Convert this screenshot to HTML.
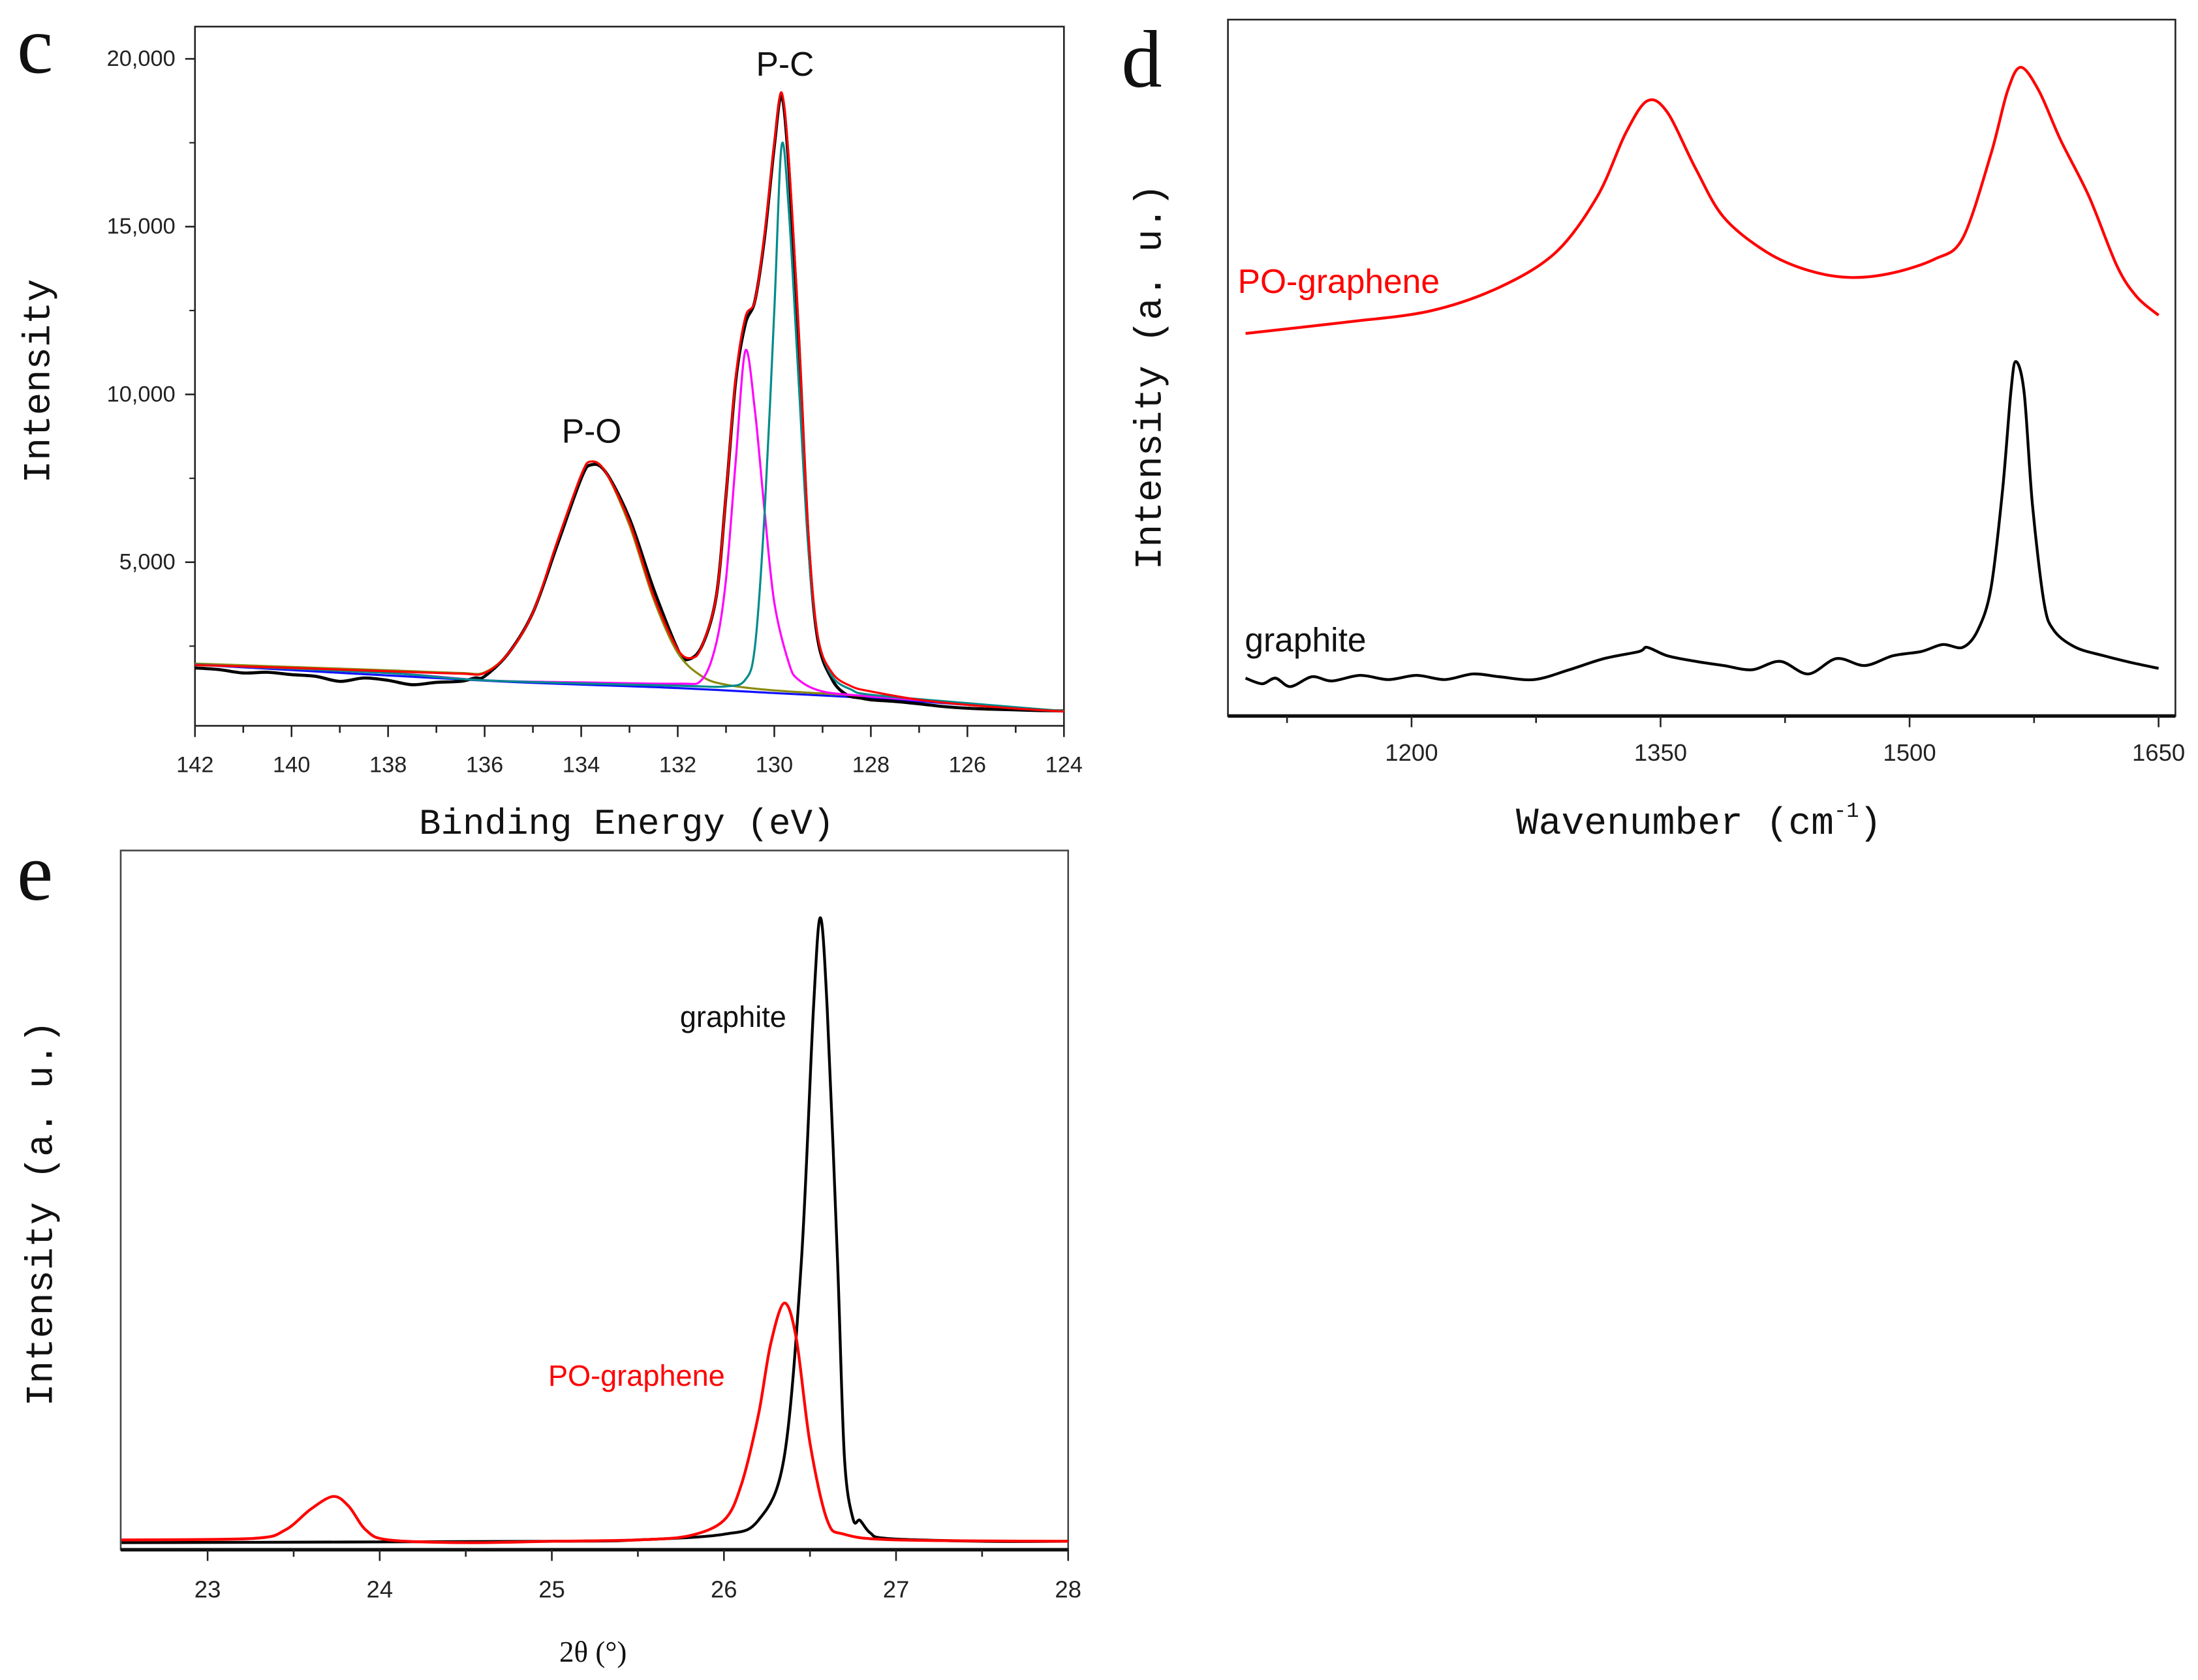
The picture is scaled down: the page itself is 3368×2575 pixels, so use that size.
<!DOCTYPE html>
<html><head><meta charset="utf-8"><style>
html,body{margin:0;padding:0;background:#fff;}
svg{display:block;}
text{font-family:"Liberation Sans",sans-serif;}
.mono{font-family:"Liberation Mono","Liberation Serif",monospace;}
.serif{font-family:"Liberation Serif",serif;}
</style></head><body>
<svg id="fig" width="3368" height="2575" viewBox="0 0 1568 1199" xmlns="http://www.w3.org/2000/svg"></svg>
<script>
// ---------- Panel c (XPS P 2p) ----------
const cEnvE = [142,140,138,136.5,136,135.5,135,134.5,134,133.8,133.5,133,132.5,132,131.7,131.5,131.2,131,130.8,130.6,130.4,130.2,130,129.85,129.7,129.5,129.3,129.1,128.8,128.4,128,127,126,125,124];
const cEnvV = [1935,1850,1750,1680,1700,2300,3500,5600,7600,8000,7700,6200,4000,2400,2150,2500,4000,7000,10500,12300,12800,14800,17500,19000,17000,12000,6000,2800,1700,1300,1150,900,750,640,550];
const cRawE = [142,141.5,141,140.5,140,139.5,139,138.5,138,137.5,137,136.5,136.2,136,135.5,135,134.5,134,133.8,133.5,133,132.5,132,131.8,131.5,131.2,131,130.8,130.6,130.4,130.2,130,129.85,129.7,129.5,129.3,129.1,128.8,128.5,128.2,128,127.5,127,126.5,126,125.5,125,124.5,124];
const cRawV = [1850,1800,1700,1720,1650,1600,1450,1550,1480,1350,1420,1450,1550,1600,2300,3500,5500,7500,7900,7700,6300,4200,2400,2100,2500,4000,7000,10400,12100,12800,14700,17400,18900,16800,11800,5800,2700,1500,1050,950,900,850,780,700,650,620,600,580,570];
const cPOE = [142,140,138,136.5,136,135.5,135,134.5,134,133.8,133.5,133,132.5,132,131.5,131,130,128,126,124];
const cPOV = [1980,1880,1780,1700,1720,2300,3500,5600,7600,8000,7700,6100,3900,2300,1600,1350,1180,1000,780,570];
const cP1E = [142,138,136,134,132,131.5,131.2,131,130.8,130.6,130.4,130.2,130,129.7,129.5,129,128,126,124];
const cP1V = [1950,1700,1480,1420,1380,1500,2600,4500,8000,11300,9500,6500,3800,2000,1500,1150,1000,780,560];
const cP2E = [142,138,136,132,131,130.6,130.4,130.2,130,129.85,129.7,129.5,129.3,129.1,128.8,128.4,128,126,124];
const cP2V = [1950,1700,1480,1320,1300,1500,2500,6500,12500,17400,15500,10500,5500,2800,1600,1200,1050,800,560];
const cBgE = [142,136,132,130,128,126,124];
const cBgV = [1950,1470,1250,1100,950,750,550];
const cXTicks = [142,140,138,136,134,132,130,128,126,124];
const cYTicks = [5000,10000,15000,20000];
const cYLabels = ["5,000","10,000","15,000","20,000"];

// ---------- Panel d (Raman) ----------
const dRedW = [1100,1160,1211,1253,1287,1312,1329,1342,1354,1371,1388,1414,1439,1464,1489,1515,1532,1549,1559,1567,1578,1591,1608,1625,1637,1650];
const dRedV = [273,281,289,306,331,371,416,439,431,391,356,331,318,313,316,326,341,401,446,463,446,411,371,321,299,286];
const dBlkW = [1100,1110,1118,1127,1140,1152,1169,1186,1203,1220,1237,1253,1274,1295,1316,1337,1342,1354,1371,1388,1405,1422,1439,1456,1473,1490,1507,1520,1532,1541,1549,1556,1561,1564,1569,1574,1581,1587,1600,1617,1634,1650];
const dBlkV = [27,23,27,21,28,25,29,26,29,26,30,28,26,33,41,46,49,43,39,36,33,39,30,41,36,43,46,51,49,61,91,161,231,253,231,151,81,61,49,43,38,34];
const dXTicks = [1200,1350,1500,1650];

// ---------- Panel e (XRD) ----------
const eRedT = [22.5,23.26,23.45,23.6,23.73,23.82,23.92,24.05,24.5,25,25.5,25.8,26.0,26.1,26.2,26.27,26.35,26.42,26.5,26.6,26.7,27,28];
const eRedV = [7,8,14,29,38,31,14,7,5,6,7,10,21,46,96,146,176,151,76,21,11,7,6];
const eBlkT = [22.5,25,25.5,26.0,26.2,26.35,26.45,26.52,26.56,26.6,26.66,26.7,26.75,26.79,26.85,26.95,27.5,28];
const eBlkV = [5,6,7,11,21,66,206,386,451,386,206,66,22,21,12,8,6,6];
const eXTicks = [23,24,25,26,27,28];

const NS = "http://www.w3.org/2000/svg";
const svg = document.getElementById('fig');
function el(tag, attrs, parent){const e=document.createElementNS(NS,tag);for(const k in attrs)e.setAttribute(k,attrs[k]);(parent||svg).appendChild(e);return e;}
function lin(d0,d1,r0,r1){return v=>r0+(v-d0)/(d1-d0)*(r1-r0);}
function smoothPath(xs,ys){
  let d=`M${xs[0].toFixed(2)},${ys[0].toFixed(2)}`;
  for(let i=0;i<xs.length-1;i++){
    const x0=xs[Math.max(i-1,0)],y0=ys[Math.max(i-1,0)],x1=xs[i],y1=ys[i],x2=xs[i+1],y2=ys[i+1],x3=xs[Math.min(i+2,xs.length-1)],y3=ys[Math.min(i+2,xs.length-1)];
    const t=0.16;
    d+=` C${(x1+(x2-x0)*t).toFixed(2)},${(y1+(y2-y0)*t).toFixed(2)} ${(x2-(x3-x1)*t).toFixed(2)},${(y2-(y3-y1)*t).toFixed(2)} ${x2.toFixed(2)},${y2.toFixed(2)}`;
  }
  return d;
}
function series(g,X,Y,xs,ys,color,w,name){
  const p=el('path',{d:smoothPath(xs.map(X),ys.map(Y)),fill:'none',stroke:color,'stroke-width':w,'stroke-linejoin':'round'},g);
  
  
}
function txt(g,x,y,s,attrs,name){
  const t=el('text',Object.assign({x:x,y:y},attrs),g);t.textContent=s;
  
  
  return t;
}

// ===== Panel c =====
{
  const g=el('g',{});
  
  
  const L=139,T=19,R=759,B=518;
  const X=lin(142,124,L,R), Y=lin(0,20000,521,42);
  const fr=el('rect',{x:L,y:T,width:R-L,height:B-T,fill:'none',stroke:'#222','stroke-width':1.2},g);
  
  
  for(let e=142;e>=124;e-=1){const maj=cXTicks.includes(e);el('line',{x1:X(e),x2:X(e),y1:B,y2:B+(maj?8:5),stroke:'#222','stroke-width':1.2},g);}
  cXTicks.forEach(e=>txt(g,X(e),551,String(e),{'font-size':16,'text-anchor':'middle',fill:'#222'},'x-tick-label'));
  cYTicks.forEach((v,i)=>{el('line',{x1:L-7,x2:L,y1:Y(v),y2:Y(v),stroke:'#222','stroke-width':1.2},g);
    txt(g,125,Y(v)+5,cYLabels[i],{'font-size':16,'text-anchor':'end',fill:'#222'},'y-tick-label');});
  [2500,7500,12500,17500].forEach(v=>el('line',{x1:L-4,x2:L,y1:Y(v),y2:Y(v),stroke:'#222','stroke-width':1},g));
  series(g,X,Y,cBgE,cBgV,'#1010ff',1.5,'background-line');
  series(g,X,Y,cRawE,cRawV,'#000',2.2,'raw-data-line');
  series(g,X,Y,cPOE,cPOV,'#8a8a10',1.5,'p-o-fit-line');
  series(g,X,Y,cP1E,cP1V,'#ff00ff',1.5,'p-c-fit-1-line');
  series(g,X,Y,cP2E,cP2V,'#008b8b',1.5,'p-c-fit-2-line');
  series(g,X,Y,cEnvE,cEnvV,'#ff0000',1.5,'envelope-fit-line');
  txt(g,560,54,'P-C',{'font-size':24,'text-anchor':'middle',fill:'#111'},'p-c-annotation');
  txt(g,422,316,'P-O',{'font-size':24,'text-anchor':'middle',fill:'#111'},'p-o-annotation');
  txt(g,12,52,'c',{'font-size':58,class:'serif',fill:'#111'},'panel-label-c');
  txt(g,447,595,'Binding Energy (eV)',{'font-size':26,'text-anchor':'middle',class:'mono',fill:'#111'},'x-axis-title-c');
  txt(g,0,0,'Intensity',{'font-size':27,'text-anchor':'middle',class:'mono',fill:'#111',transform:'translate(35,272) rotate(-90)'},'y-axis-title-c');
}

// ===== Panel d =====
{
  const g=el('g',{});
  
  
  const L=876,T=14,R=1552,B=511;
  const X=lin(1200,1650,1007,1540), Y=lin(0,497,511,14);
  const fr=el('rect',{x:L,y:T,width:R-L,height:B-T,fill:'none',stroke:'#222','stroke-width':1.2},g);
  
  
  el('line',{x1:L,x2:R,y1:B,y2:B,stroke:'#111','stroke-width':2.5},g);
  for(let w=1125;w<=1650;w+=75){const maj=dXTicks.includes(w);el('line',{x1:X(w),x2:X(w),y1:B,y2:B+(maj?8:5),stroke:'#222','stroke-width':1.2},g);}
  dXTicks.forEach(w=>txt(g,X(w),543,String(w),{'font-size':17,'text-anchor':'middle',fill:'#222'},'x-tick-label'));
  series(g,X,Y,dRedW,dRedV,'#ff0000',2,'po-graphene-raman-line');
  series(g,X,Y,dBlkW,dBlkV,'#000',2,'graphite-raman-line');
  txt(g,883,209,'PO-graphene',{'font-size':24,fill:'#ff0000'},'po-graphene-label');
  txt(g,888,465,'graphite',{'font-size':24,fill:'#111'},'graphite-label');
  txt(g,800,62,'d',{'font-size':58,class:'serif',fill:'#111'},'panel-label-d');
  const xt=el('text',{x:1212,y:595,'font-size':27,'text-anchor':'middle',class:'mono',fill:'#111'},g);
  
  
  const s1=el('tspan',{},xt); s1.textContent='Wavenumber (cm';
  const s2=el('tspan',{dy:-12,'font-size':15},xt); s2.textContent='-1';
  const s3=el('tspan',{dy:12},xt); s3.textContent=')';
  txt(g,0,0,'Intensity (a. u.)',{'font-size':27,'text-anchor':'middle',class:'mono',fill:'#111',transform:'translate(828,269) rotate(-90)'},'y-axis-title-d');
}

// ===== Panel e =====
{
  const g=el('g',{});
  
  
  const L=86,T=607,R=762,B=1106;
  const X=lin(23,28,148,762), Y=lin(0,499,1106,607);
  const fr=el('rect',{x:L,y:T,width:R-L,height:B-T,fill:'none',stroke:'#444','stroke-width':1.2},g);
  
  
  el('line',{x1:L,x2:R,y1:B,y2:B,stroke:'#111','stroke-width':2.5},g);
  for(let t=23;t<=28;t+=0.5){const maj=Number.isInteger(t);el('line',{x1:X(t),x2:X(t),y1:B,y2:B+(maj?8:5),stroke:'#222','stroke-width':1.2},g);}
  eXTicks.forEach(t=>txt(g,X(t),1140,String(t),{'font-size':17,'text-anchor':'middle',fill:'#222'},'x-tick-label'));
  series(g,X,Y,eBlkT,eBlkV,'#000',2,'graphite-xrd-line');
  series(g,X,Y,eRedT,eRedV,'#ff0000',2,'po-graphene-xrd-line');
  txt(g,485,733,'graphite',{'font-size':21,fill:'#111'},'graphite-label');
  txt(g,391,989,'PO-graphene',{'font-size':21,fill:'#ff0000'},'po-graphene-label');
  txt(g,12,642,'e',{'font-size':58,class:'serif',fill:'#111'},'panel-label-e');
  txt(g,423,1186,'2θ (°)',{'font-size':21,'text-anchor':'middle',class:'serif',fill:'#111'},'x-axis-title-e');
  txt(g,0,0,'Intensity (a. u.)',{'font-size':27,'text-anchor':'middle',class:'mono',fill:'#111',transform:'translate(37,866) rotate(-90)'},'y-axis-title-e');
}
</script>
</body></html>
